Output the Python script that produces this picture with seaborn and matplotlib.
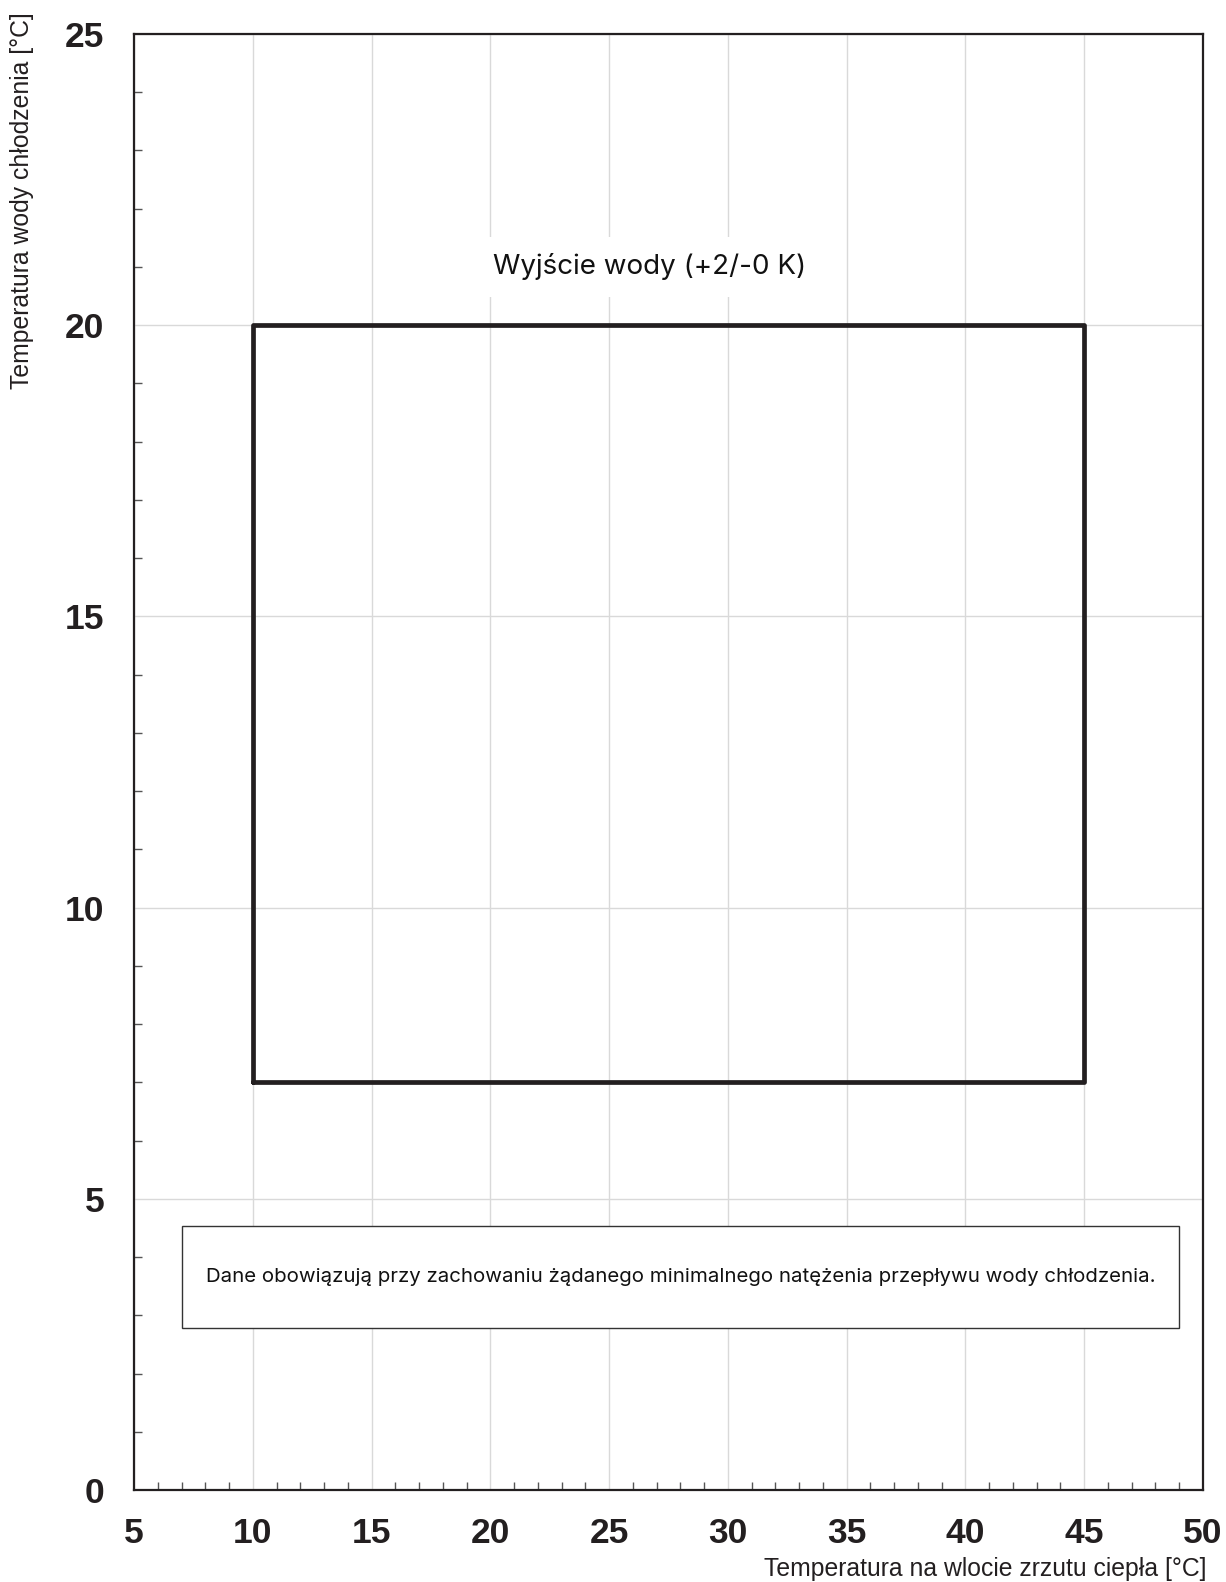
import numpy as np
import pandas as pd
import matplotlib
matplotlib.use("Agg")
import matplotlib.pyplot as plt
import seaborn as sns
from matplotlib.patches import Rectangle
from matplotlib.ticker import MultipleLocator

# data
box_x = [10, 45, 45, 10, 10]
box_y = [7, 7, 20, 20, 7]
x_ticks = [5, 10, 15, 20, 25, 30, 35, 40, 45, 50]
y_ticks = [0, 5, 10, 15, 20, 25]

label_box = "Wyjście wody (+2/-0 K)"
note_text = "Dane obowiązują przy zachowaniu żądanego minimalnego natężenia przepływu wody chłodzenia."
xlabel = "Temperatura na wlocie zrzutu ciepła [°C]"
ylabel = "Temperatura wody chłodzenia [°C]"

sns.set_style("white")
plt.rcParams['font.family'] = ['Liberation Sans', 'DejaVu Sans']

dark = "#231f20"

fig = plt.figure(figsize=(12.26, 15.82), dpi=100)
ax = fig.add_axes([134 / 1226, 1 - 1490 / 1582, 1069 / 1226, 1456 / 1582])

df = pd.DataFrame({"x": box_x, "y": box_y})
sns.lineplot(data=df, x="x", y="y", sort=False, estimator=None,
             color=dark, linewidth=3.4, ax=ax, zorder=5)

ax.set_xlim(5, 50)
ax.set_ylim(0, 25)
ax.set_xticks(x_ticks)
ax.set_yticks(y_ticks)
ax.xaxis.set_minor_locator(MultipleLocator(1))
ax.yaxis.set_minor_locator(MultipleLocator(1))

ax.grid(True, which="major", color="#d9d9d9", linewidth=1.0, zorder=0)
ax.set_axisbelow(True)

for s in ax.spines.values():
    s.set_color(dark)
    s.set_linewidth(1.6)

ax.tick_params(which="major", direction="out", length=7.5, width=1.0,
               color="#555555", labelsize=25.5, pad=14, colors=dark)
ax.tick_params(which="minor", direction="in", length=5.5, width=1.0,
               color="#555555", bottom=True, left=True)
ax.tick_params(axis="x", which="major", pad=12)
for lbl in ax.get_xticklabels() + ax.get_yticklabels():
    lbl.set_fontweight("bold")

ax.set_xlabel(xlabel, fontsize=17.8, loc="right", color=dark)
ax.set_ylabel(ylabel, fontsize=17.8, loc="top", color=dark)
ax.xaxis.set_label_coords(1.003, -0.046)
ax.yaxis.set_label_coords(-0.0935, 1.015)

ax.text(26.7, 21.0, label_box, ha="center", va="center", fontsize=20,
        family=["Inter", "DejaVu Sans"], color="#111111", zorder=6,
        bbox=dict(facecolor="white", edgecolor="none", pad=12))

ax.add_patch(Rectangle((7, 2.78), 42, 1.75, facecolor="white",
                       edgecolor="#333333", linewidth=1.0, zorder=6))
ax.text(28, 3.65, note_text, ha="center", va="center", fontsize=14.7,
        family=["Inter", "DejaVu Sans"], color="#111111", zorder=7)

fig.savefig("out.png", dpi=100)
